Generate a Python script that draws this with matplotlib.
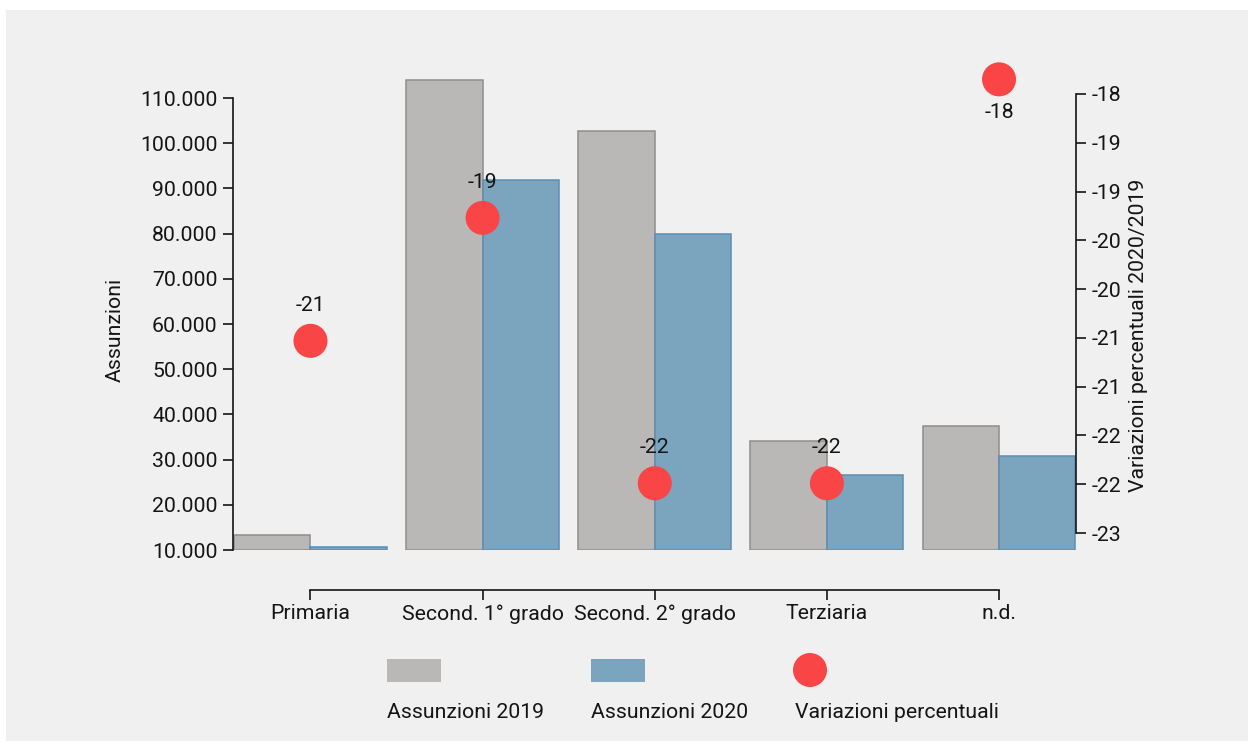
import matplotlib
matplotlib.use("Agg")
import math
import matplotlib.pyplot as plt
from matplotlib.patches import Rectangle, Ellipse
from matplotlib.ticker import FixedLocator, FuncFormatter

# hires by education level, 2019 vs 2020, plus percentage change
categories = ["Primaria", "Second. 1° grado", "Second. 2° grado", "Terziaria", "n.d."]
assunzioni_2019 = [13400, 114000, 102700, 34100, 37500]
assunzioni_2020 = [10650, 91900, 79900, 26500, 30800]
variazioni = [-20.53, -19.27, -21.99, -21.99, -17.85]

left_ticks = [10000, 20000, 30000, 40000, 50000, 60000, 70000, 80000, 90000, 100000, 110000]
right_ticks = [-22.5, -22.0, -21.5, -21.0, -20.5, -20.0, -19.5, -19.0, -18.5, -18.0]
legend_labels = ["Assunzioni 2019", "Assunzioni 2020", "Variazioni percentuali"]

GREY, GREY_EDGE = "#bab8b6", "#8f8d8b"
BLUE, BLUE_EDGE = "#7ba4bf", "#5b8db3"
RED = "#f94545"
INK = "#151515"
FONT = "Roboto"
FS = 15.3

W, H = 1254, 749
plt.rcParams["font.family"] = [FONT, "DejaVu Sans"]


def fx(px):
    return px / W


def fy(py):
    return 1 - py / H


def it_thousands(v, _pos=None):
    return f"{v:,.0f}".replace(",", ".")


def round_half_away(v, _pos=None):
    return f"{int(math.copysign(math.floor(abs(v) + 0.5), v))}"


fig = plt.figure(figsize=(W / 100, H / 100), dpi=100)
fig.patch.set_facecolor("white")
fig.patches.append(Rectangle((fx(6), fy(741)), fx(1248 - 6), (741 - 10) / H,
                             transform=fig.transFigure, facecolor="#f0f0f0",
                             edgecolor="none", zorder=-10))

ax = fig.add_axes([fx(233), fy(550), fx(1076 - 233), (550 - 60) / H])
ax.patch.set_visible(False)

x = list(range(len(categories)))
bw = 0.444
base = 10000
ax.bar([i - bw / 2 for i in x], [v - base for v in assunzioni_2019], width=bw,
       bottom=base, color=GREY, edgecolor=GREY_EDGE, linewidth=1.1, zorder=2)
ax.bar([i + bw / 2 for i in x], [v - base for v in assunzioni_2020], width=bw,
       bottom=base, color=BLUE, edgecolor=BLUE_EDGE, linewidth=1.1, zorder=2)

ax.set_xlim(-0.45, 4.447)
ax.set_ylim(base, base + 490 / 4.52 * 1000)

ax.spines["top"].set_visible(False)
ax.spines["right"].set_visible(False)
for s in ("left", "bottom"):
    ax.spines[s].set_linewidth(1.2)
    ax.spines[s].set_color(INK)
ax.spines["left"].set_bounds(left_ticks[0], left_ticks[-1])
ax.spines["bottom"].set_position(("outward", 29))
ax.spines["bottom"].set_bounds(0, len(categories) - 1)

ax.yaxis.set_major_locator(FixedLocator(left_ticks))
ax.yaxis.set_major_formatter(FuncFormatter(it_thousands))
ax.set_xticks(x)
ax.set_xticklabels(categories)
ax.tick_params(axis="y", length=7, width=1.2, pad=4, labelsize=FS, colors=INK)
ax.tick_params(axis="x", length=7, width=1.2, pad=3, labelsize=FS, colors=INK)

ax2 = ax.twinx()
ax2.patch.set_visible(False)
ax2.set_ylim(-22.5 - 17 / 97.6, -18 + 34 / 97.6)
for s in ("left", "top", "bottom"):
    ax2.spines[s].set_visible(False)
ax2.spines["right"].set_linewidth(1.2)
ax2.spines["right"].set_color(INK)
ax2.spines["right"].set_bounds(right_ticks[0], right_ticks[-1])
ax2.yaxis.set_major_locator(FixedLocator(right_ticks))
ax2.yaxis.set_major_formatter(FuncFormatter(round_half_away))
ax2.tick_params(axis="y", length=7, width=1.2, pad=4, labelsize=FS, colors=INK)

ax2.scatter(x, variazioni, s=24.5 ** 2, color=RED, edgecolors="none",
            zorder=5, clip_on=False)
for i, v in zip(x, variazioni):
    above = v < right_ticks[-1]
    ax2.annotate(round_half_away(v), (i, v), xytext=(0, 25.5 if above else -24),
                 textcoords="offset points", ha="center", va="center",
                 fontsize=FS, color=INK, zorder=6)

fig.text(fx(115), fy(330), "Assunzioni", rotation=90, ha="center", va="center",
         fontsize=FS, color=INK)
fig.text(fx(1138), fy(335), "Variazioni percentuali 2020/2019", rotation=90,
         ha="center", va="center", fontsize=FS, color=INK)

# legend row below the axis
fig.patches.append(Rectangle((fx(387), fy(682)), fx(54), 23 / H,
                             transform=fig.transFigure, facecolor=GREY, edgecolor="none"))
fig.patches.append(Rectangle((fx(591), fy(682)), fx(54), 23 / H,
                             transform=fig.transFigure, facecolor=BLUE, edgecolor="none"))
fig.patches.append(Ellipse((fx(810), fy(670)), fx(34), 34 / H,
                           transform=fig.transFigure, facecolor=RED, edgecolor="none"))
for lx, lab in zip([387, 591, 795], legend_labels):
    fig.text(fx(lx), fy(713), lab, ha="left", va="center", fontsize=FS, color=INK)

fig.savefig("out.png", dpi=100, facecolor=fig.get_facecolor())
